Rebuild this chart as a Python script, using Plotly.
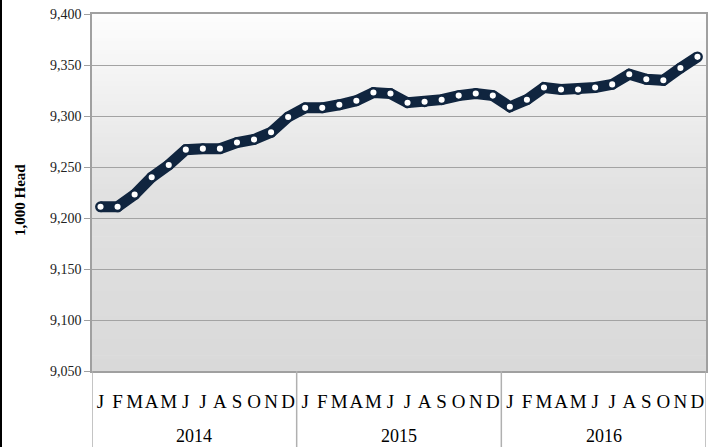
import plotly.graph_objects as go

years = ["2014", "2015", "2016"]
month_letters = ["J", "F", "M", "A", "M", "J", "J", "A", "S", "O", "N", "D"]
values_2014 = [9211, 9211, 9223, 9240, 9252, 9267, 9268, 9268, 9274, 9277, 9284, 9299]
values_2015 = [9308, 9308, 9311, 9315, 9323, 9322, 9313, 9314, 9316, 9320, 9322, 9320]
values_2016 = [9309, 9316, 9328, 9326, 9326, 9328, 9331, 9341, 9336, 9335, 9347, 9358]
y_ticks = [9050, 9100, 9150, 9200, 9250, 9300, 9350, 9400]

values = values_2014 + values_2015 + values_2016
x_idx = list(range(len(values)))
tick_text = month_letters * len(years)

W, H = 717, 447
ML, MR, MT, MB = 92, 11, 14, 76
PW, PH = W - ML - MR, H - MT - MB

def px_x(p):
    return (p - ML) / PW

def px_y(p):
    return (H - MB - p) / PH

NAVY = "#10253f"
fig = go.Figure()
fig.add_trace(go.Scatter(
    x=x_idx, y=values, mode="lines+markers",
    line=dict(color=NAVY, width=11),
    marker=dict(color="white", size=8.5, line=dict(width=2.4, color=NAVY)),
    showlegend=False, hoverinfo="y",
))

# gradient background bands
shapes = []
N = 90
def grad(t):
    # t: 0 top -> 1 bottom
    if t < 0.5:
        v = 253 - (253 - 225) * (t / 0.5)
    else:
        v = 225 - (225 - 217) * ((t - 0.5) / 0.5)
    return int(round(v))
for i in range(N):
    t = (i + 0.5) / N
    g = grad(t)
    shapes.append(dict(type="rect", xref="paper", yref="paper",
                       x0=0, x1=1, y1=1 - i / N, y0=1 - (i + 1) / N - 0.002,
                       fillcolor=f"rgb({g},{g},{g})", line=dict(width=0),
                       layer="below"))

# category dividers extending below axis
for k in range(len(years) + 1):
    xv = k * 12 - 0.5
    shapes.append(dict(type="line", xref="x", yref="paper",
                       x0=xv, x1=xv, y0=0, y1=px_y(H),
                       line=dict(color="#b0b0b0", width=1.5)))

# left black frame line
shapes.append(dict(type="line", xref="paper", yref="paper",
                   x0=px_x(1), x1=px_x(1), y0=px_y(0), y1=px_y(H),
                   line=dict(color="black", width=2)))

annotations = []
for k, yr in enumerate(years):
    annotations.append(dict(x=k * 12 + 5.5, y=px_y(436), xref="x", yref="paper",
                            text=yr, showarrow=False, yanchor="middle",
                            font=dict(family="Liberation Serif", size=18, color="black")))
annotations.append(dict(x=px_x(20), y=px_y(200), xref="paper", yref="paper",
                        text="<b>1,000 Head</b>", textangle=-90, showarrow=False,
                        xanchor="center", yanchor="middle",
                        font=dict(family="Liberation Serif", size=15, color="black")))

fig.update_layout(
    width=W, height=H,
    margin=dict(l=ML, r=MR, t=MT, b=MB, autoexpand=False),
    paper_bgcolor="white", plot_bgcolor="rgba(0,0,0,0)",
    shapes=shapes, annotations=annotations,
    xaxis=dict(range=[-0.5, 35.5], tickmode="array", tickvals=x_idx, ticktext=tick_text,
               showgrid=False, zeroline=False, showline=True, linecolor="#a0a0a0",
               linewidth=1.5, mirror=True, ticks="", ticklabelstandoff=12,
               tickfont=dict(family="Liberation Serif", size=19, color="black"),
               tickangle=0, automargin=False),
    yaxis=dict(range=[9050, 9400], tickmode="array", tickvals=y_ticks,
               ticktext=[f"{v:,}" for v in y_ticks],
               showgrid=True, gridcolor="#a3a3a3", gridwidth=1.2, zeroline=False,
               showline=True, linecolor="#a0a0a0", linewidth=1.5, mirror=True,
               ticks="outside", ticklen=6, tickcolor="#a0a0a0", automargin=False,
               tickfont=dict(family="Liberation Serif", size=14, color="#222222")),
    font=dict(family="Liberation Serif"),
)

fig.write_html("out.html", config={"displayModeBar": False},
               post_script="document.body.style.margin='0';document.body.style.overflow='hidden';")
